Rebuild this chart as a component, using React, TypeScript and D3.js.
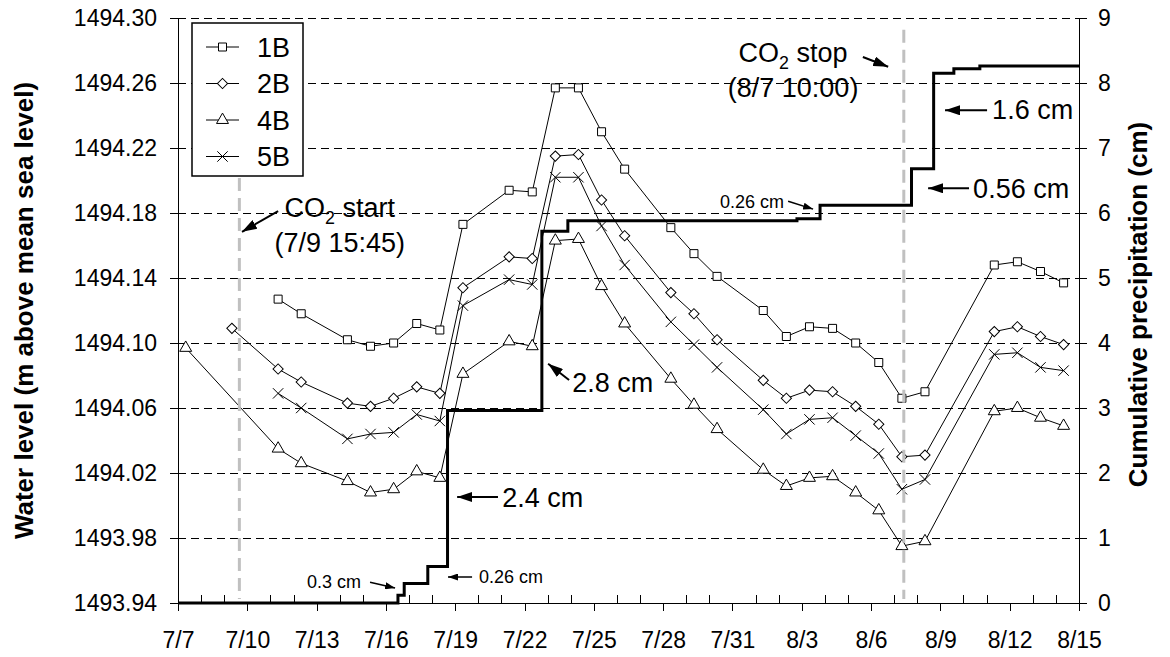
import React, { useEffect, useRef } from "react";
import * as d3 from "d3";

const WIDTH = 1170;
const HEIGHT = 657;
const FONT = "Arial, 'Liberation Sans', Helvetica, sans-serif";

// sampling days (readings taken ~08:00)
const SAMPLE_HOUR = "08:00";
const sampleDates = ["7/11", "7/12", "7/14", "7/15", "7/16", "7/17", "7/18", "7/19", "7/21", "7/22", "7/23", "7/24", "7/25", "7/26", "7/28", "7/29", "7/30", "8/1", "8/2", "8/3", "8/4", "8/5", "8/6", "8/7", "8/8", "8/11", "8/12", "8/13", "8/14"];
const dates2B = ["7/9", ...sampleDates];
const dates4B = ["7/7", ...sampleDates];

const level1B = [1494.127, 1494.118, 1494.102, 1494.098, 1494.100, 1494.112, 1494.108, 1494.173, 1494.194, 1494.193, 1494.257, 1494.257, 1494.230, 1494.207, 1494.171, 1494.155, 1494.141, 1494.120, 1494.104, 1494.110, 1494.109, 1494.100, 1494.088, 1494.066, 1494.070, 1494.148, 1494.150, 1494.144, 1494.137];
const level2B = [1494.109, 1494.084, 1494.076, 1494.063, 1494.061, 1494.066, 1494.073, 1494.069, 1494.134, 1494.153, 1494.152, 1494.215, 1494.216, 1494.188, 1494.166, 1494.131, 1494.118, 1494.102, 1494.077, 1494.066, 1494.071, 1494.070, 1494.061, 1494.050, 1494.030, 1494.031, 1494.107, 1494.110, 1494.104, 1494.099];
const level4B = [1494.097, 1494.035, 1494.026, 1494.015, 1494.008, 1494.010, 1494.021, 1494.017, 1494.081, 1494.101, 1494.098, 1494.163, 1494.164, 1494.135, 1494.112, 1494.078, 1494.062, 1494.047, 1494.022, 1494.012, 1494.017, 1494.018, 1494.008, 1493.997, 1493.975, 1493.978, 1494.058, 1494.060, 1494.054, 1494.049];
const level5B = [1494.069, 1494.060, 1494.041, 1494.044, 1494.045, 1494.056, 1494.052, 1494.123, 1494.139, 1494.136, 1494.202, 1494.202, 1494.172, 1494.148, 1494.113, 1494.099, 1494.085, 1494.059, 1494.044, 1494.053, 1494.054, 1494.043, 1494.032, 1494.010, 1494.016, 1494.093, 1494.094, 1494.085, 1494.083];

// cumulative precipitation (cm), step changes
const precipTimes = ["7/7 00:00", "7/16 12:30", "7/16 19:00", "7/17 19:30", "7/18 16:00", "7/22 18:00", "7/23 21:00", "8/2 19:00", "8/3 19:00", "8/7 18:00", "8/8 17:00", "8/9 14:00", "8/10 17:00", "8/15 00:00"];
const precipCum = [0, 0.12, 0.3, 0.56, 2.96, 5.72, 5.88, 5.91, 6.12, 6.68, 8.15, 8.22, 8.26, 8.26];

// CO2 injection start / stop, with top of the gray marker line (precip units)
const co2Times = ["7/9 15:45", "8/7 10:00"];
const co2LineTop = [6.54, 8.82];

const leftTicks = d3.range(0, 10).map((i) => 1493.94 + i * 0.04);
const rightTicks = d3.range(0, 10);

// annotations: text placed in (date, precip) coordinates
const annotations = [
  { text: ["CO2 start", "(7/9 15:45)"], at: "7/14 00:00", vs: [5.94, 5.4], anchor: "middle", size: 27, from: ["7/11 08:00", 6.03], to: ["7/9 18:30", 5.71], head: "big" },
  { text: ["CO2 stop", "(8/7 10:00)"], at: "8/2 15:00", vs: [8.32, 7.78], anchor: "middle", size: 27, from: ["8/5 15:30", 8.4], to: ["8/6 17:45", 8.25], head: "big" },
  { text: ["0.26 cm"], at: "8/2 05:30", vs: [6.08], anchor: "end", size: 18, from: ["8/2 09:50", 6.18], to: ["8/3 11:45", 6.06], head: "small" },
  { text: ["1.6 cm"], at: "8/11 05:45", vs: [7.45], anchor: "start", size: 27, from: ["8/11 00:30", 7.58], to: ["8/9 04:50", 7.58], head: "big" },
  { text: ["0.56 cm"], at: "8/10 10:00", vs: [6.23], anchor: "start", size: 27, from: ["8/10 05:45", 6.38], to: ["8/8 11:15", 6.38], head: "big" },
  { text: ["2.8 cm"], at: "7/24 01:30", vs: [3.25], anchor: "start", size: 27, from: ["7/23 22:15", 3.43], to: ["7/23 00:30", 3.68], head: "big" },
  { text: ["2.4 cm"], at: "7/21 00:45", vs: [1.48], anchor: "start", size: 27, from: ["7/20 20:25", 1.63], to: ["7/19 02:00", 1.63], head: "big" },
  { text: ["0.3 cm"], at: "7/12 14:00", vs: [0.23], anchor: "start", size: 18, from: ["7/15 07:30", 0.32], to: ["7/16 09:30", 0.23], head: "small" },
  { text: ["0.26 cm"], at: "7/20 00:45", vs: [0.31], anchor: "start", size: 18, from: ["7/19 17:30", 0.4], to: ["7/18 16:30", 0.4], head: "small" },
];

const App = () => {
  const ref = useRef<SVGSVGElement>(null);

  useEffect(() => {
    const svg = d3.select(ref.current);
    svg.selectAll("*").remove();

    const margin = { top: 18, right: 91, bottom: 54, left: 178 };
    const x0 = margin.left,
      x1 = WIDTH - margin.right,
      yTop = margin.top,
      yBot = HEIGHT - margin.bottom;

    const parse = d3.timeParse("%m/%d %H:%M");
    const day = (s: string) => parse(s.includes(" ") ? s : s + " " + SAMPLE_HOUR) as Date;

    const x = d3.scaleTime().domain([day("7/7 00:00"), day("8/15 00:00")]).range([x0, x1]);
    const yL = d3.scaleLinear().domain([1493.94, 1494.3]).range([yBot, yTop]);
    const yR = d3.scaleLinear().domain([0, 9]).range([yBot, yTop]);

    // arrow heads
    const defs = svg.append("defs");
    const heads: [string, number, number][] = [["big", 15, 10], ["small", 10, 7]];
    heads.forEach(([id, l, w]) => {
      defs.append("marker")
        .attr("id", "ah-" + id)
        .attr("viewBox", `0 0 ${l} ${w}`)
        .attr("refX", l).attr("refY", w / 2)
        .attr("markerWidth", l).attr("markerHeight", w)
        .attr("markerUnits", "userSpaceOnUse")
        .attr("orient", "auto")
        .append("path").attr("d", `M0,0L${l},${w / 2}L0,${w}Z`).attr("fill", "#000");
    });

    // dashed gridlines
    svg.append("g").attr("shape-rendering", "crispEdges").selectAll("line")
      .data(leftTicks.slice(1))
      .join("line")
      .attr("x1", x0).attr("x2", x1)
      .attr("y1", (d) => yL(d)).attr("y2", (d) => yL(d))
      .attr("stroke", "#000").attr("stroke-width", 1)
      .attr("stroke-dasharray", "8,5");

    // water level series
    const series = [
      { name: "1B", dates: sampleDates, values: level1B, shape: "square" },
      { name: "2B", dates: dates2B, values: level2B, shape: "diamond" },
      { name: "4B", dates: dates4B, values: level4B, shape: "triangle" },
      { name: "5B", dates: sampleDates, values: level5B, shape: "times" },
    ];

    const timesType = (d3 as any).symbolTimes || (d3 as any).symbolX;
    const drawMarker = (g: any, shape: string) => {
      if (shape === "square") {
        g.append("path").attr("d", d3.symbol(d3.symbolSquare, 64)()).attr("fill", "#fff").attr("stroke", "#000");
      } else if (shape === "diamond") {
        g.append("path").attr("d", d3.symbol(d3.symbolSquare, 52)()).attr("transform", "rotate(45)").attr("fill", "#fff").attr("stroke", "#000");
      } else if (shape === "triangle") {
        g.append("path").attr("d", d3.symbol(d3.symbolTriangle, 62)()).attr("fill", "#fff").attr("stroke", "#000");
      } else {
        g.append("path").attr("d", d3.symbol(timesType, 72)()).attr("fill", "none").attr("stroke", "#000");
      }
    };

    const line = d3.line<[Date, number]>().x((d) => x(d[0])).y((d) => yL(d[1]));
    const gSeries = svg.append("g");
    series.forEach((s) => {
      const pts: [Date, number][] = s.dates.map((d, i) => [day(d), s.values[i]]);
      gSeries.append("path").datum(pts).attr("d", line).attr("fill", "none").attr("stroke", "#000").attr("stroke-width", 1);
      pts.forEach((p) => {
        const g = gSeries.append("g").attr("transform", `translate(${x(p[0])},${yL(p[1])})`);
        drawMarker(g, s.shape);
      });
    });

    // cumulative precipitation
    const precip: [Date, number][] = precipTimes.map((t, i) => [day(t), precipCum[i]]);
    svg.append("path")
      .datum(precip)
      .attr("d", d3.line<[Date, number]>().x((d) => x(d[0])).y((d) => yR(d[1])).curve(d3.curveStepAfter))
      .attr("fill", "none").attr("stroke", "#000").attr("stroke-width", 3);

    // CO2 start/stop lines
    svg.append("g").selectAll("line")
      .data(co2Times)
      .join("line")
      .attr("x1", (d) => x(day(d))).attr("x2", (d) => x(day(d)))
      .attr("y1", (d, i) => yR(co2LineTop[i])).attr("y2", yBot - 4)
      .attr("stroke", "#c0c0c0").attr("stroke-width", 3)
      .attr("stroke-dasharray", "13,7");

    // axes
    const styleAxis = (g: any) => {
      g.attr("font-family", FONT).attr("font-size", 23);
      g.selectAll("path, line").attr("stroke", "#000").attr("stroke-width", 1).attr("shape-rendering", "crispEdges");
      g.selectAll("text").attr("fill", "#000");
    };

    svg.append("g")
      .attr("transform", `translate(${x0},0)`)
      .call(d3.axisLeft(yL).tickValues(leftTicks).tickFormat(d3.format(".2f")).tickSize(8).tickSizeOuter(0).tickPadding(13))
      .call(styleAxis);

    svg.append("g")
      .attr("transform", `translate(${x1},0)`)
      .call(d3.axisRight(yR).tickValues(rightTicks).tickFormat(d3.format("d")).tickSize(8).tickSizeOuter(0).tickPadding(11))
      .call(styleAxis);

    const allDays = d3.timeDay.range(day("7/7 00:00"), d3.timeDay.offset(day("8/15 00:00"), 1));
    const majorDays = allDays.filter((d, i) => i % 3 === 0);
    const minorDays = allDays.filter((d, i) => i % 3 !== 0);

    svg.append("g")
      .attr("transform", `translate(0,${yBot})`)
      .call(d3.axisTop(x).tickValues(minorDays).tickFormat(() => "").tickSize(8).tickSizeOuter(0))
      .call(styleAxis)
      .call((g: any) => g.select(".domain").remove());

    svg.append("g")
      .attr("transform", `translate(0,${yBot})`)
      .call(d3.axisBottom(x).tickValues(majorDays).tickFormat(d3.timeFormat("%-m/%-d") as any).tickSize(8).tickSizeOuter(0).tickPadding(21))
      .call(styleAxis);

    // axis titles
    svg.append("text")
      .attr("transform", `translate(33,${(yTop + yBot) / 2}) rotate(-90)`)
      .attr("text-anchor", "middle")
      .attr("font-family", FONT).attr("font-size", 26).attr("font-weight", "bold")
      .text("Water level (m above mean sea level)");

    svg.append("text")
      .attr("transform", `translate(1147,${(yTop + yBot) / 2 - 6}) rotate(-90)`)
      .attr("text-anchor", "middle")
      .attr("font-family", FONT).attr("font-size", 26).attr("font-weight", "bold")
      .text("Cumulative precipitation (cm)");

    // annotations
    const gAnn = svg.append("g").attr("font-family", FONT).attr("fill", "#000");
    annotations.forEach((a) => {
      a.text.forEach((t, i) => {
        const txt = gAnn.append("text")
          .attr("x", x(day(a.at)))
          .attr("y", yR(a.vs[i]))
          .attr("text-anchor", a.anchor)
          .attr("font-size", a.size);
        if (t.startsWith("CO2")) {
          txt.append("tspan").text("CO");
          txt.append("tspan").attr("font-size", a.size * 0.66).attr("dy", 7).text("2");
          txt.append("tspan").attr("dy", -7).text(t.slice(3));
        } else {
          txt.text(t);
        }
      });
      gAnn.append("line")
        .attr("x1", x(day(a.from[0] as string))).attr("y1", yR(a.from[1] as number))
        .attr("x2", x(day(a.to[0] as string))).attr("y2", yR(a.to[1] as number))
        .attr("stroke", "#000").attr("stroke-width", a.head === "big" ? 2 : 1.5)
        .attr("marker-end", `url(#ah-${a.head})`);
    });

    // legend
    const lg = svg.append("g").attr("transform", "translate(192,23)");
    lg.append("rect").attr("width", 111).attr("height", 153).attr("fill", "#fff").attr("stroke", "#000").attr("stroke-width", 1.5);
    series.forEach((s, i) => {
      const yy = 24 + i * 36.5;
      lg.append("line").attr("x1", 14).attr("x2", 47).attr("y1", yy).attr("y2", yy).attr("stroke", "#000");
      drawMarker(lg.append("g").attr("transform", `translate(30.5,${yy})`), s.shape);
      lg.append("text").attr("x", 65).attr("y", yy + 9.5)
        .attr("font-family", FONT).attr("font-size", 27).text(s.name);
    });
  }, []);

  return (
    <svg
      ref={ref}
      width={WIDTH}
      height={HEIGHT}
      style={{ position: "absolute", left: 0, top: 0, background: "#fff" }}
    />
  );
};

export default App;
